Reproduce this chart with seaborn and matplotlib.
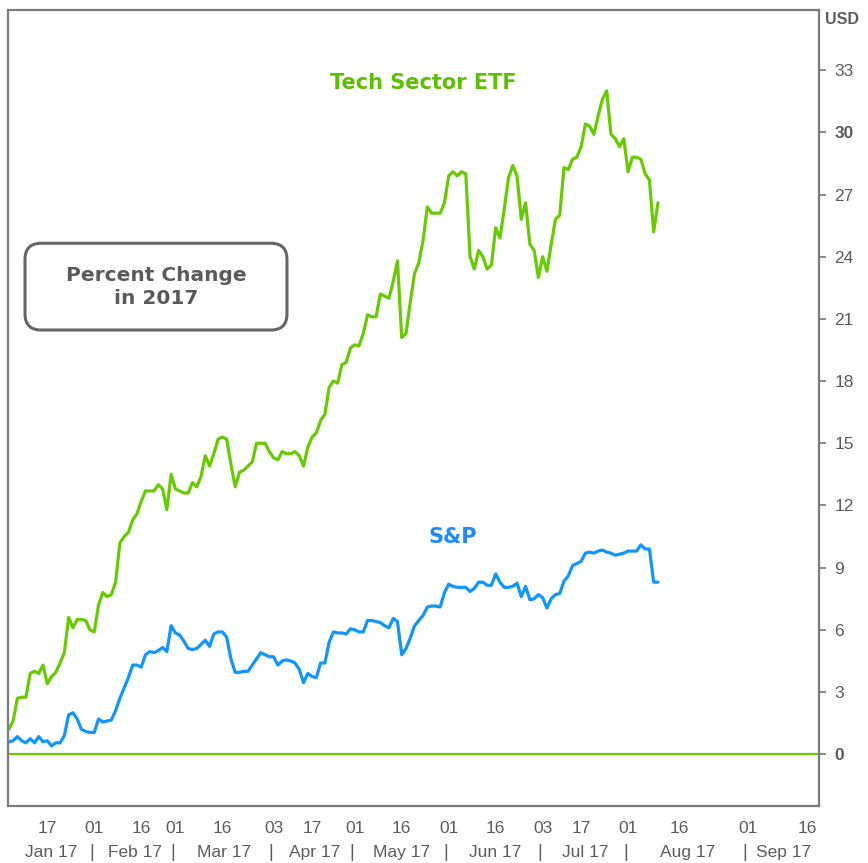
import numpy as np
import pandas as pd
import matplotlib
matplotlib.use("Agg")
import matplotlib.pyplot as plt
import matplotlib.transforms as mtransforms
from matplotlib.patches import FancyBboxPatch
import seaborn as sns

# percent change since start of 2017, one value per trading day (Jan 3 .. Aug 10)
tech_etf = [
    1.2, 1.6, 2.7, 2.75, 2.75, 3.9, 4.0, 3.9, 4.3, 3.4,
    3.75, 3.95, 4.4, 4.9, 6.6, 6.1, 6.5, 6.5, 6.45, 6.0,
    5.9, 7.2, 7.8, 7.6, 7.7, 8.3, 10.2, 10.5, 10.7, 11.3,
    11.6, 12.2, 12.7, 12.7, 12.7, 13.0, 12.8, 11.8, 13.5, 12.8,
    12.7, 12.6, 12.6, 13.1, 12.9, 13.4, 14.4, 13.9, 14.5, 15.2,
    15.3, 15.2, 14.0, 12.9, 13.6, 13.7, 13.9, 14.1, 15.0, 15.0,
    15.0, 14.6, 14.3, 14.2, 14.6, 14.5, 14.5, 14.6, 14.4, 13.9,
    14.8, 15.3, 15.5, 16.1, 16.4, 17.7, 18.0, 17.9, 18.8, 18.9,
    19.6, 19.75, 19.7, 20.3, 21.2, 21.1, 21.1, 22.2, 22.1, 22.0,
    22.8, 23.8, 20.1, 20.3, 21.8, 23.2, 23.7, 24.8, 26.4, 26.1,
    26.1, 26.1, 26.6, 27.9, 28.1, 27.9, 28.1, 28.0, 24.0, 23.4,
    24.3, 24.0, 23.4, 23.6, 25.4, 24.9, 26.3, 27.8, 28.4, 27.9,
    25.8, 26.6, 24.6, 24.3, 23.0, 24.0, 23.3, 24.6, 25.8, 26.0,
    28.3, 28.2, 28.7, 28.8, 29.3, 30.4, 30.3, 29.9, 30.8, 31.6,
    32.0, 29.9, 29.7, 29.3, 29.7, 28.1, 28.8, 28.8, 28.7, 28.0,
    27.7, 25.2, 26.6,
]
sp500 = [
    0.6, 0.65, 0.85, 0.65, 0.55, 0.75, 0.55, 0.85, 0.6, 0.65,
    0.4, 0.55, 0.55, 0.9, 1.9, 2.0, 1.7, 1.2, 1.1, 1.05,
    1.05, 1.7, 1.55, 1.6, 1.65, 2.1, 2.7, 3.2, 3.7, 4.3,
    4.3, 4.2, 4.8, 4.95, 4.9, 5.0, 5.15, 4.95, 6.2, 5.85,
    5.75, 5.45, 5.1, 5.05, 5.1, 5.3, 5.5, 5.2, 5.8, 5.9,
    5.9, 5.65, 4.6, 3.95, 3.95, 4.0, 4.0, 4.3, 4.6, 4.9,
    4.8, 4.7, 4.7, 4.3, 4.5, 4.55, 4.5, 4.4, 4.1, 3.45,
    3.9, 3.75, 3.7, 4.4, 4.4, 5.4, 5.9, 5.85, 5.85, 5.8,
    6.05, 6.0, 5.9, 5.9, 6.45, 6.45, 6.4, 6.35, 6.2, 6.1,
    6.55, 6.4, 4.8, 5.1, 5.6, 6.2, 6.45, 6.7, 7.1, 7.15,
    7.15, 7.1, 7.8, 8.2, 8.1, 8.05, 8.05, 8.05, 7.85, 8.0,
    8.3, 8.3, 8.15, 8.15, 8.7, 8.3, 8.05, 8.05, 8.1, 8.25,
    7.6, 8.1, 7.45, 7.5, 7.7, 7.55, 7.05, 7.5, 7.7, 7.75,
    8.35, 8.6, 9.1, 9.2, 9.3, 9.7, 9.75, 9.7, 9.8, 9.85,
    9.75, 9.7, 9.6, 9.65, 9.7, 9.8, 9.8, 9.8, 10.1, 9.9,
    9.9, 8.3, 8.3,
]

day_labels = ["17", "01", "16", "01", "16", "03", "17", "01", "16",
              "01", "16", "03", "17", "01", "16", "01", "16"]
month_labels = ["Jan 17", "Feb 17", "Mar 17", "Apr 17", "May 17",
                "Jun 17", "Jul 17", "Aug 17", "Sep 17"]

# trading-day index of each date tick and of each month start
day_pos = [9, 20, 31, 39, 50, 62, 71, 81, 92, 103, 114, 125, 134, 145, 157, 173, 187]
month_start = [20, 39, 62, 81, 103, 125, 145, 173]

GREEN = "#66cc00"
BLUE = "#1096ff"
GREY = "#5c5c5c"
XMIN, XMAX = -0.2, 189.7

sns.set_style("white")
plt.rcParams["font.family"] = ["DejaVu Sans"]
narrow = ["Liberation Sans", "DejaVu Sans"]

df = pd.DataFrame({"day": np.arange(len(tech_etf)), "tech": tech_etf, "sp": sp500})

fig = plt.figure(figsize=(8.68, 8.63), dpi=100)
ax = fig.add_axes([0.0092, 0.0660, 0.9343, 0.9224])

sns.lineplot(data=df, x="day", y="tech", color=GREEN, lw=2.3, ax=ax)
sns.lineplot(data=df, x="day", y="sp", color=BLUE, lw=2.3, ax=ax)
ax.axhline(0, color=GREEN, lw=1.6, zorder=1)

ax.set_xlim(XMIN, XMAX)
ax.set_ylim(-2.5, 35.9)
ax.set_xlabel("")
ax.set_ylabel("")

# right-hand price scale
ax.yaxis.tick_right()
ax.set_yticks(range(0, 34, 3))
ax.set_yticklabels([str(v) for v in range(0, 34, 3)], family=narrow,
                   fontsize=12.5, color=GREY)
for lab in ax.get_yticklabels():
    if lab.get_text() in ("0", "30"):
        lab.set_fontweight("bold")
ax.tick_params(axis="y", direction="out", length=5, width=1.2, color="#777777", pad=6)

ax.set_xticks(day_pos)
ax.set_xticklabels(day_labels, family=narrow, fontsize=12.5, color=GREY)
ax.tick_params(axis="x", direction="out", length=5, width=1.2, color="#777777", pad=6)

for s in ax.spines.values():
    s.set_color("#7a7a7a")
    s.set_linewidth(1.6)

# month row under the day ticks
trans = mtransforms.blended_transform_factory(ax.transData, ax.transAxes)
edges = [XMIN] + month_start + [XMAX]
for name, a, b in zip(month_labels, edges[:-1], edges[1:]):
    ax.text((a + b) / 2, -0.058, name, transform=trans, ha="center", va="center",
            family=narrow, fontsize=12.5, color=GREY, clip_on=False)
for m in month_start:
    ax.text(m - 0.6, -0.058, "|", transform=trans, ha="center", va="center",
            family=narrow, fontsize=13, color=GREY, clip_on=False)

fig.text(0.951, 0.977, "USD", ha="left", va="center", fontsize=11.5,
         fontweight="bold", color=GREY, family=narrow)

# series names
ax.text(0.512, 0.908, "Tech Sector ETF", transform=ax.transAxes, ha="center",
        va="center", fontsize=15, fontweight="bold", color="#5cbf00")
ax.text(0.548, 0.338, "S&P", transform=ax.transAxes, ha="center",
        va="center", fontsize=15, fontweight="bold", color="#1a8cff")

# note box
box = FancyBboxPatch((0.021, 0.598), 0.323, 0.109, transform=ax.transAxes,
                     boxstyle="round,pad=0,rounding_size=0.02", fc="white",
                     ec="#666666", lw=2.2)
ax.add_patch(box)
ax.text(0.1825, 0.652, "Percent Change\nin 2017", transform=ax.transAxes,
        ha="center", va="center", fontsize=14.5, fontweight="bold",
        color="#5a5a5a", linespacing=1.3)

fig.savefig("out.png", dpi=100)
